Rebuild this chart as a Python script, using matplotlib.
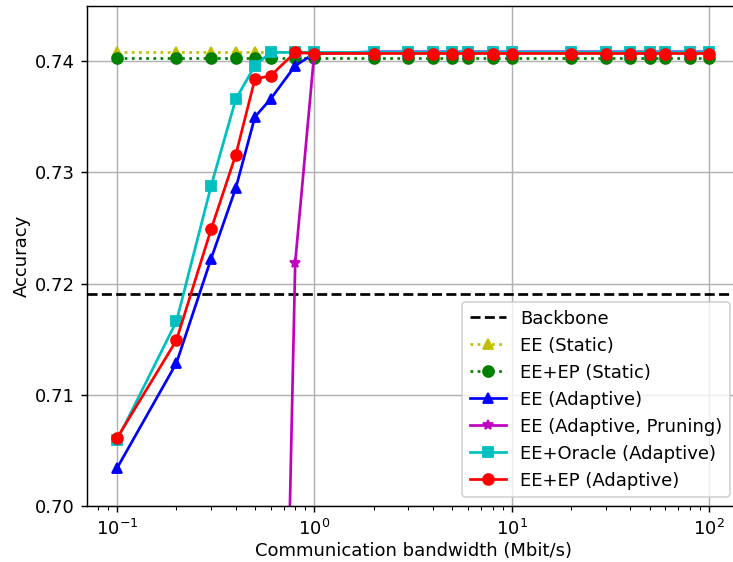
import matplotlib
matplotlib.use("Agg")
import matplotlib.pyplot as plt
import numpy as np

# bandwidth values (Mbit/s)
bandwidth = [0.1, 0.2, 0.3, 0.4, 0.5, 0.6, 0.8, 1, 2, 3, 4, 5, 6, 8,
             10, 20, 30, 40, 50, 60, 80, 100]

backbone_acc = 0.7191

ee_static = [0.74085] * len(bandwidth)
eeep_static = [0.7403] * len(bandwidth)

ee_adaptive = [0.7034, 0.71285, 0.72225, 0.7286, 0.7350, 0.7366, 0.7396, 0.7407,
               0.74085, 0.74085, 0.74085, 0.74085, 0.74085, 0.74085,
               0.74085, 0.74085, 0.74085, 0.74085, 0.74085, 0.74085, 0.74085, 0.74085]

ee_pruning = [0.40, 0.46, 0.51, 0.55, 0.59, 0.62, 0.7219, 0.7408,
              0.7408, 0.7408, 0.7408, 0.7408, 0.7408, 0.7408,
              0.7408, 0.7408, 0.7408, 0.7408, 0.7408, 0.7408, 0.7408, 0.7408]

ee_oracle = [0.7059, 0.7166, 0.7288, 0.7366, 0.7396, 0.7408, 0.7408, 0.7408,
             0.7408, 0.7408, 0.7408, 0.7408, 0.7408, 0.7408,
             0.7408, 0.7408, 0.7408, 0.7408, 0.7408, 0.7408, 0.7408, 0.7408]

eeep_adaptive = [0.7061, 0.7149, 0.7249, 0.7316, 0.7384, 0.7387, 0.7408, 0.7407,
                 0.7407, 0.7407, 0.7407, 0.7407, 0.7407, 0.7407,
                 0.7407, 0.7407, 0.7407, 0.7407, 0.7407, 0.7407, 0.7407, 0.7407]

W, H, DPI = 733, 562, 130
fig = plt.figure(figsize=(W / DPI, H / DPI), dpi=DPI)
left, right, bottom, top = 87.4, 738.6, 506, 5.7
ax = fig.add_axes([left / W, (H - bottom) / H, (right - left) / W, (bottom - top) / H])

ax.axhline(backbone_acc, color="k", linestyle="--", label="Backbone")
ax.plot(bandwidth, ee_static, "y:^", label="EE (Static)")
ax.plot(bandwidth, eeep_static, "g:o", label="EE+EP (Static)")
ax.plot(bandwidth, ee_adaptive, "b-^", label="EE (Adaptive)")
ax.plot(bandwidth, ee_pruning, "m-*", label="EE (Adaptive, Pruning)")
ax.plot(bandwidth, ee_oracle, "c-s", label="EE+Oracle (Adaptive)")
ax.plot(bandwidth, eeep_adaptive, "r-o", label="EE+EP (Adaptive)")

ax.set_xscale("log")
ax.set_xlim(10 ** -1.15, 10 ** 2.15)
ax.set_ylim(0.70, 0.745)
ax.set_yticks([0.70, 0.71, 0.72, 0.73, 0.74])
ax.grid(True)
ax.set_xlabel("Communication bandwidth (Mbit/s)", labelpad=2)
ax.set_ylabel("Accuracy", labelpad=2)
ax.legend(loc="lower right")

fig.savefig("out.png", dpi=DPI)
